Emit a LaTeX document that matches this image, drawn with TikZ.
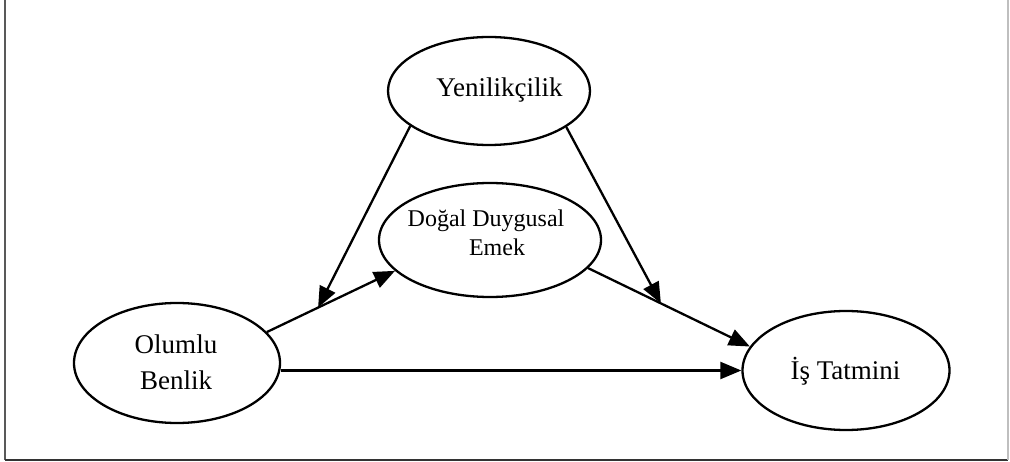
\documentclass[tikz,border=0pt]{standalone}
\usepackage{fontspec}
\setmainfont{Liberation Serif}
\usetikzlibrary{shapes.geometric,arrows.meta}
\begin{document}
\begin{tikzpicture}[x=1pt,y=-1pt,
  var/.style={draw, ellipse, line width=2.3pt, inner sep=0pt},
  lbl/.style={font=\fontsize{27}{33}\selectfont, inner sep=0pt, anchor=base},
  slbl/.style={font=\fontsize{24}{29}\selectfont, inner sep=0pt, anchor=base},
  arr/.style={line width=2.3pt, -{Triangle[length=21pt,width=17pt]}},
  frame/.style={line width=1.8pt}]
\useasboundingbox (0,0) rectangle (1010,462);
% frame
\draw[frame, black!65] (5,0) -- (5,460);
\draw[frame, black!80] (5,460) -- (1008,460);
\draw[frame, black!25] (1008,0) -- (1008,460);
% ellipses
\node[var, minimum width=202pt, minimum height=108pt] (yen) at (489,91) {};
\node[var, minimum width=222pt, minimum height=114pt] (dde) at (490,240) {};
\node[var, minimum width=206pt, minimum height=120pt] (olb) at (177,363) {};
\node[var, minimum width=207pt, minimum height=119pt] (ist) at (846,370.5) {};
% labels
\node[lbl] (tyen) at (499.5,97) {Yenilikçilik};
\node[slbl] (tdde1) at (486,227) {Doğal Duygusal};
\node[slbl] (tdde2) at (497,256) {Emek};
\node[lbl] (tolb1) at (176,354) {Olumlu};
\node[lbl] (tolb2) at (176,389) {Benlik};
\node[lbl] (tist) at (845.5,380) {İş Tatmini};
% connectors
\draw[arr] (olb.19) -- coordinate[pos=0.4] (m1) (dde.198);
\draw[arr] (dde.-16) -- coordinate[pos=0.45] (m2) (ist.166);
\draw[arr] (olb.east |- ist.west) -- (ist.west);
\draw[arr] (yen.204.5) -- (m1);
\draw[arr] (yen.-25.7) -- (m2);
\end{tikzpicture}
\end{document}
